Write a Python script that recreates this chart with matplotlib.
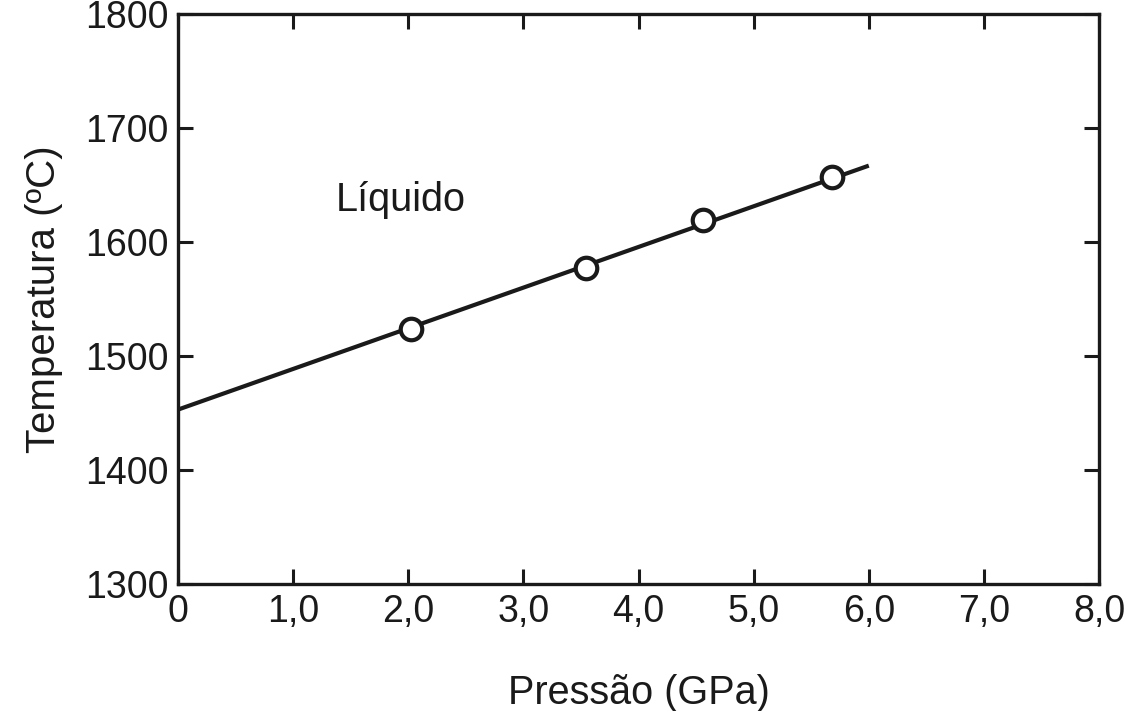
import matplotlib
matplotlib.use('Agg')
import matplotlib.pyplot as plt

plt.rcParams['font.family'] = ['Liberation Sans', 'DejaVu Sans']
plt.rcParams['text.color'] = '#1a1a1a'

# data
pressure_pts = [2.02, 3.54, 4.56, 5.68]
temp_pts = [1524, 1577, 1619, 1657]
line_p = [0.0, 6.0]
line_t = [1453, 1667]

x_ticks = [0, 1, 2, 3, 4, 5, 6, 7, 8]
x_labels = ['0', '1,0', '2,0', '3,0', '4,0', '5,0', '6,0', '7,0', '8,0']
y_ticks = [1300, 1400, 1500, 1600, 1700, 1800]
y_labels = ['1300', '1400', '1500', '1600', '1700', '1800']

ink = '#1a1a1a'

fig = plt.figure(figsize=(11.24, 7.11), dpi=100)
ax = fig.add_axes([0.1584, 0.1786, 0.9778 - 0.1584, 0.9803 - 0.1786])

ax.plot(line_p, line_t, color=ink, linewidth=3.0, zorder=2, solid_capstyle='butt')
ax.plot(pressure_pts, temp_pts, linestyle='none', marker='o', markersize=15.5,
        markerfacecolor='white', markeredgecolor=ink, markeredgewidth=3.0, zorder=3)

ax.set_xlim(0, 8)
ax.set_ylim(1300, 1800)
ax.set_xticks(x_ticks)
ax.set_xticklabels(x_labels)
ax.set_yticks(y_ticks)
ax.set_yticklabels(y_labels)

ax.tick_params(direction='in', length=11, width=2.2, colors=ink, labelsize=27,
               top=True, right=True, pad=7)
for s in ax.spines.values():
    s.set_linewidth(2.4)
    s.set_color(ink)

ax.set_xlabel('Pressão (GPa)', fontsize=28.5, labelpad=32, color=ink)
ax.set_ylabel('Temperatura (ºC)', fontsize=29, labelpad=16, color=ink)

ax.text(1.37, 1637, 'Líquido', fontsize=28.5, va='center', ha='left', color=ink)

fig.savefig('out.png', dpi=100, facecolor='white')
